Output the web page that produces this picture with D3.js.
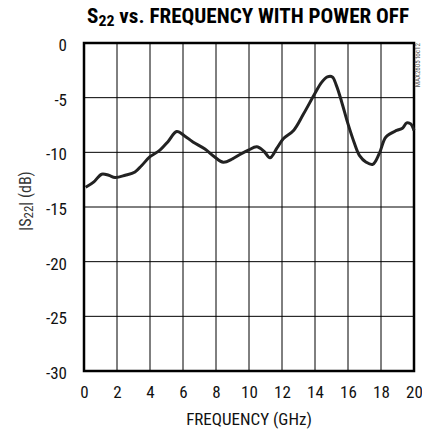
<!DOCTYPE html>
<html>
<head>
<meta charset="utf-8">
<script src="https://cdn.jsdelivr.net/npm/d3@7"></script>
<style>
body { margin: 0; background: #fff; }
text { font-family: "Liberation Sans Narrow", "Roboto Condensed", "DejaVu Sans Condensed", sans-serif; }
</style>
</head>
<body>
<script>
// S22 curve
const freq = [0.1, 0.6, 1.07, 1.5, 1.88, 2.5, 3.09, 3.5, 4.0, 4.6, 5.1, 5.62, 6.1, 6.6, 7.33, 7.9, 8.44, 9.0, 9.45, 9.96, 10.47, 10.9, 11.27, 11.7, 12.08, 12.7, 13.3, 14.0, 14.4, 14.75, 15.05, 15.3, 15.6, 16.0, 16.35, 16.7, 17.1, 17.5, 17.9, 18.3, 18.95, 19.3, 19.56, 19.8, 20.0];
const s22 = [-13.2, -12.7, -12.0, -12.1, -12.3, -12.1, -11.8, -11.2, -10.4, -9.8, -9.0, -8.1, -8.5, -9.05, -9.7, -10.4, -10.9, -10.6, -10.2, -9.8, -9.5, -9.9, -10.5, -9.6, -8.75, -8.0, -6.5, -4.6, -3.6, -3.1, -3.1, -3.9, -5.3, -7.4, -9.0, -10.3, -10.9, -11.1, -10.1, -8.6, -8.0, -7.8, -7.3, -7.4, -8.0];

const xTicks = d3.range(0, 21, 2);
const yTicks = [0, -5, -10, -15, -20, -25, -30];

const width = 422, height = 433;
const margin = { top: 43, right: 8, bottom: 62, left: 84 };

const svg = d3.select("body").append("svg")
    .attr("width", width)
    .attr("height", height);

const xScale = d3.scaleLinear().domain([0, 20]).range([margin.left, width - margin.right]);
const yScale = d3.scaleLinear().domain([-30, 0]).range([height - margin.bottom, margin.top]);

// grid
svg.append("g")
    .selectAll("line")
    .data(xTicks)
    .enter().append("line")
    .attr("x1", d => xScale(d)).attr("x2", d => xScale(d))
    .attr("y1", yScale(0)).attr("y2", yScale(-30))
    .attr("stroke", "#000").attr("stroke-width", 1);

svg.append("g")
    .selectAll("line")
    .data(yTicks)
    .enter().append("line")
    .attr("x1", xScale(0)).attr("x2", xScale(20))
    .attr("y1", d => yScale(d)).attr("y2", d => yScale(d))
    .attr("stroke", "#000").attr("stroke-width", 1);

// frame
svg.append("rect")
    .attr("x", xScale(0)).attr("y", yScale(0))
    .attr("width", xScale(20) - xScale(0))
    .attr("height", yScale(-30) - yScale(0))
    .attr("fill", "none").attr("stroke", "#000").attr("stroke-width", 2.5);

// axes labels (plain hyphen for minus, like the original)
const xAxis = svg.append("g")
    .attr("transform", `translate(0,${yScale(-30)})`)
    .call(d3.axisBottom(xScale).tickValues(xTicks).tickFormat(d => String(d)).tickSize(0).tickPadding(15));
xAxis.select(".domain").remove();
xAxis.selectAll("text").style("font-size", "17px").attr("fill", "#111");

const yAxis = svg.append("g")
    .attr("transform", `translate(${xScale(0)},2)`)
    .call(d3.axisLeft(yScale).tickValues(yTicks).tickFormat(d => String(d)).tickSize(0).tickPadding(17));
yAxis.select(".domain").remove();
yAxis.selectAll("text").style("font-size", "17px").attr("fill", "#111");

// curve
const line = d3.line()
    .x((d, i) => xScale(freq[i]))
    .y(d => yScale(d))
    .curve(d3.curveCatmullRom);

svg.append("path")
    .datum(s22)
    .attr("d", line)
    .attr("fill", "none")
    .attr("stroke", "#222")
    .attr("stroke-width", 3);

// title
const title = svg.append("text")
    .attr("x", 248).attr("y", 23)
    .attr("text-anchor", "middle")
    .attr("textLength", 322)
    .attr("lengthAdjust", "spacingAndGlyphs")
    .style("font-size", "20px")
    .style("font-weight", "bold");
title.append("tspan").text("S");
title.append("tspan").attr("dy", 3).style("font-size", "15px").text("22");
title.append("tspan").attr("dy", -3).text(" vs. FREQUENCY WITH POWER OFF");

// x title
svg.append("text")
    .attr("x", 249).attr("y", 425)
    .attr("text-anchor", "middle")
    .style("font-size", "17px")
    .attr("fill", "#111")
    .text("FREQUENCY (GHz)");

// y title
const yt = svg.append("text")
    .attr("transform", "translate(31,201) rotate(-90)")
    .attr("text-anchor", "middle")
    .style("font-size", "16px")
    .attr("fill", "#333");
yt.append("tspan").text("|S");
yt.append("tspan").attr("dy", 2).style("font-size", "13px").text("22");
yt.append("tspan").attr("dy", -2).text("| (dB)");

// side note
svg.append("text")
    .attr("transform", `translate(420,${margin.top}) rotate(-90)`)
    .attr("text-anchor", "end")
    .style("font-size", "7px")
    .attr("fill", "#555")
    .text("MAX2605 toc12");
</script>
</body>
</html>
